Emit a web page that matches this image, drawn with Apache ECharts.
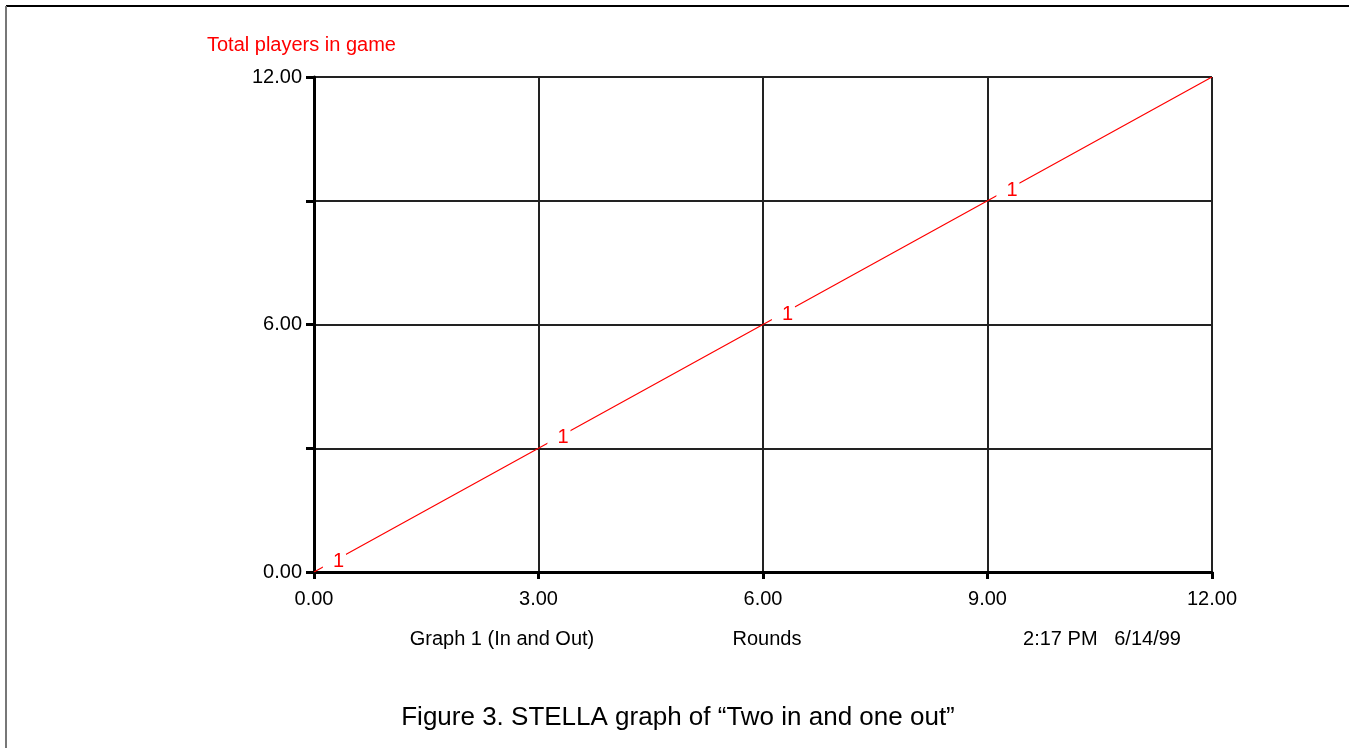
<!DOCTYPE html>
<html>
<head>
<meta charset="utf-8">
<script src="https://cdn.jsdelivr.net/npm/echarts@6/dist/echarts.min.js"></script>
<style>
html,body{margin:0;padding:0;background:#fff;}
#chart{width:1349px;height:748px;}
</style>
</head>
<body>
<div id="chart"></div>
<script>
var rounds = [0, 1, 2, 3, 4, 5, 6, 7, 8, 9, 10, 11, 12];
var totalPlayers = [0, 1, 2, 3, 4, 5, 6, 7, 8, 9, 10, 11, 12];
var markerRounds = [0.3, 3.3, 6.3, 9.3];
var markerValues = [0.3, 3.3, 6.3, 9.3];

var FONT = '"Liberation Sans", Arial, sans-serif';
var chart = echarts.init(document.getElementById('chart'));

var lineData = rounds.map(function (r, i) { return [r, totalPlayers[i]]; });
var markData = markerRounds.map(function (r, i) { return [r, markerValues[i]]; });

chart.setOption({
  animation: false,
  backgroundColor: '#fff',
  grid: { left: 314, right: 137, top: 77, bottom: 176, show: false },
  xAxis: {
    type: 'value', min: 0, max: 12, interval: 3,
    axisLine: { show: true, lineStyle: { color: '#000', width: 3 } },
    axisTick: { show: true, length: 7, lineStyle: { color: '#000', width: 3 } },
    axisLabel: { color: '#000', fontFamily: FONT, fontSize: 20, margin: 17,
      formatter: function (v) { return v.toFixed(2); } },
    splitLine: { show: true, lineStyle: { color: '#222', width: 2 } }
  },
  yAxis: {
    type: 'value', min: 0, max: 12, interval: 3,
    axisLine: { show: true, lineStyle: { color: '#000', width: 3 } },
    axisTick: { show: true, length: 8, lineStyle: { color: '#000', width: 3 } },
    axisLabel: { color: '#000', fontFamily: FONT, fontSize: 20, margin: 12, padding: [4, 0, 0, 0],
      formatter: function (v) { return (v % 6 === 0) ? v.toFixed(2) : ''; } },
    splitLine: { show: true, lineStyle: { color: '#222', width: 2 } }
  },
  series: [
    {
      type: 'line', data: lineData, symbol: 'none',
      lineStyle: { color: '#ff0000', width: 1.2 }, z: 3
    },
    {
      type: 'scatter', data: markData, symbolSize: 0, z: 4,
      itemStyle: { opacity: 1 },
      label: {
        show: true, position: 'inside', formatter: '1',
        color: '#ff0000', fontFamily: FONT, fontSize: 20, lineHeight: 16,
        backgroundColor: '#ffffff', padding: [0, 2, 0, 10], offset: [-2, 2]
      }
    }
  ],
  graphic: [
    { type: 'line', shape: { x1: 6, y1: 6, x2: 1349, y2: 6 }, style: { stroke: '#000', lineWidth: 2 } },
    { type: 'line', shape: { x1: 6, y1: 6, x2: 6, y2: 748 }, style: { stroke: '#777', lineWidth: 2 } },
    { type: 'text', x: 207, y: 45, style: { text: 'Total players in game', fill: '#ff0000', font: '20px ' + FONT, textVerticalAlign: 'middle' } },
    { type: 'text', x: 502, y: 639, style: { text: 'Graph 1 (In and Out)', fill: '#000', font: '20px ' + FONT, textAlign: 'center', textVerticalAlign: 'middle' } },
    { type: 'text', x: 767, y: 639, style: { text: 'Rounds', fill: '#000', font: '20px ' + FONT, textAlign: 'center', textVerticalAlign: 'middle' } },
    { type: 'text', x: 1102, y: 639, style: { text: '2:17 PM   6/14/99', fill: '#000', font: '20px ' + FONT, textAlign: 'center', textVerticalAlign: 'middle' } },
    { type: 'text', x: 678, y: 718, style: { text: 'Figure 3. STELLA graph of \u201cTwo in and one out\u201d', fill: '#000', font: '26px ' + FONT, textAlign: 'center', textVerticalAlign: 'middle' } }
  ]
});
</script>
</body>
</html>
